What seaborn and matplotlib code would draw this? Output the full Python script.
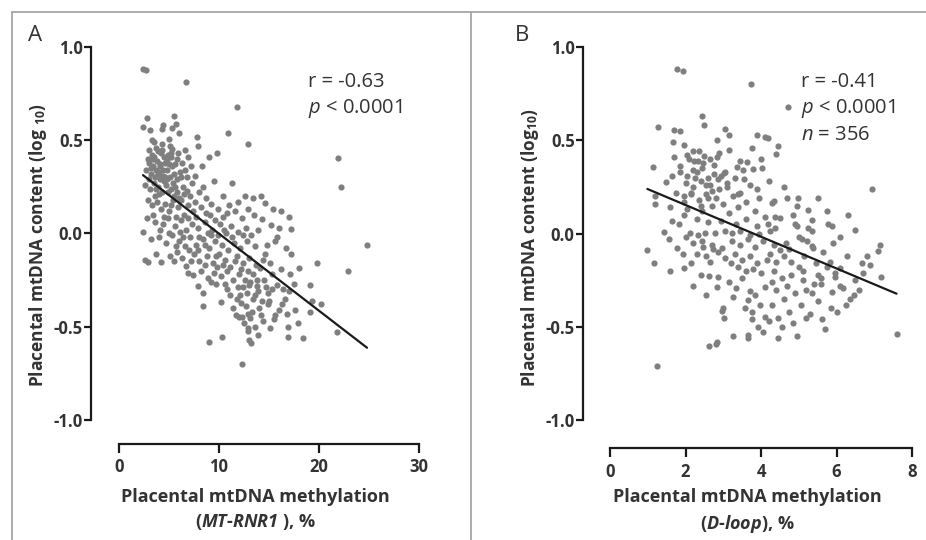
"""
Placental mtDNA content vs. mtDNA methylation (MT-RNR1 and D-loop)
"""

import matplotlib
matplotlib.use("Agg")
import matplotlib.pyplot as plt
from matplotlib.lines import Line2D
import seaborn as sns

sns.set_style("white")
plt.rcParams["font.family"] = ["Open Sans", "DejaVu Sans"]
plt.rcParams["mathtext.fontset"] = "custom"
plt.rcParams["mathtext.rm"] = "Open Sans"
plt.rcParams["mathtext.it"] = "Open Sans:italic"
plt.rcParams["mathtext.bf"] = "Open Sans:bold"
plt.rcParams["mathtext.bfit"] = "Open Sans:italic:bold"

# panel A: MT-RNR1 methylation (%) vs log10 mtDNA content
rnr1_x = [
    2.4, 2.7, 6.7, 11.8, 2.8, 5.5, 2.4, 3.1, 4.4, 4.3, 5.3, 5.7, 6.0, 10.9, 7.8, 12.9,
    3.5, 4.3, 5.0, 7.9, 3.7, 5.3, 9.8, 3.3, 4.2, 4.9, 5.2, 6.9, 9.0, 21.9, 22.2,
    3.0, 3.4, 3.8, 4.1, 4.6, 5.6, 6.3, 7.2, 8.3,
    3.2, 3.6, 4.0, 4.4, 4.8, 5.1, 5.5, 6.1, 6.8, 7.6, 9.5, 11.3,
    2.6, 3.1, 3.5, 3.9, 4.3, 4.7, 5.2, 5.8, 6.4, 7.1, 8.0, 8.7, 10.4, 12.6, 13.4, 14.2,
    2.9, 3.3, 3.8, 4.2, 4.6, 5.0, 5.4, 5.9, 6.5, 6.9, 7.4, 8.2, 9.1, 9.9, 10.8, 11.6,
    12.3, 13.5, 14.6, 15.4, 16.2, 17.0,
    2.8, 3.6, 4.4, 4.9, 5.6, 6.2, 6.7, 7.3, 7.9, 8.6, 9.3, 10.1, 10.7, 11.2, 11.9, 12.7,
    13.2, 14.3, 15.2, 16.0, 17.2,
    2.4, 3.2, 4.0, 4.7, 5.3, 6.0, 6.6, 7.1, 7.7, 8.4, 9.0, 9.6, 10.3, 10.9, 11.5, 12.1,
    12.8, 13.6, 14.8, 15.6, 15.8, 16.7,
    2.6, 2.9, 4.2, 3.7, 5.1, 5.8, 6.3, 6.7, 7.5, 8.0, 8.8, 9.4, 10.0, 10.6, 11.1, 11.8,
    12.4, 13.0, 13.7, 14.6, 14.1, 17.2, 18.0, 19.8,
    6.9, 7.4, 8.2, 8.9, 9.5, 10.2, 10.8, 11.4, 12.0, 12.6, 13.0, 13.4, 15.3, 15.8, 17.1,
    19.1, 22.9, 24.8,
    7.9, 8.4, 9.7, 10.8, 11.1, 11.9, 12.8, 13.9, 14.9, 16.4,
    8.4, 11.8, 12.2, 14.3, 14.9, 19.3, 20.2, 10.2,
    11.7, 12.3, 12.9, 13.1, 17.6, 16.8, 16.0, 19.1, 14.2,
    12.9, 12.9, 13.6, 15.1, 13.9, 17.9, 16.9, 16.9, 18.4, 21.8,
    9.0, 10.3, 13.0, 13.2, 12.3,
    3.0, 3.9, 4.5, 3.4, 4.8, 5.9, 6.6, 2.7, 3.7, 4.5, 5.3, 5.8, 6.6, 7.3, 3.0, 4.1,
    4.9, 5.5, 6.2, 6.8, 7.6, 8.4, 9.2, 3.6, 4.0, 4.5, 5.2, 5.7, 6.1, 6.9, 7.7, 8.7,
    9.6, 10.4, 11.0, 11.9, 12.9, 3.4, 4.1, 5.0, 5.7, 6.4, 7.0, 7.9, 8.6, 9.2, 9.9, 10.5,
    11.3, 12.4, 13.9, 8.0, 8.9, 9.7, 10.4, 11.6, 12.2, 12.9, 13.8, 14.4, 15.1, 16.2,
    9.8, 8.6, 7.2, 5.5, 12.4, 13.4, 15.3, 10.6, 9.2,
    3.2, 3.5, 3.9, 4.3, 4.6, 5.0, 5.4, 5.8, 6.2, 2.9, 3.7, 4.1, 4.8, 5.2, 5.6, 6.0,
    3.3, 4.4, 5.1, 6.5,
    12.1, 12.7, 13.3, 13.8, 14.4, 15.0, 15.6, 16.3, 17.0, 12.5, 13.1, 14.0, 14.7, 15.5,
    16.6, 11.4, 12.0, 13.6, 14.5, 17.5,
]
rnr1_y = [
    0.88, 0.875, 0.81, 0.68, 0.62, 0.63, 0.57, 0.555, 0.58, 0.56, 0.565, 0.585, 0.54, 0.54, 0.515, 0.48,
    0.49, 0.48, 0.505, 0.47, 0.46, 0.455, 0.43, 0.42, 0.43, 0.42, 0.41, 0.41, 0.41, 0.405, 0.25,
    0.38, 0.36, 0.39, 0.37, 0.38, 0.37, 0.38, 0.36, 0.36,
    0.32, 0.30, 0.33, 0.31, 0.34, 0.30, 0.32, 0.33, 0.30, 0.31, 0.28, 0.27,
    0.26, 0.24, 0.27, 0.25, 0.22, 0.26, 0.24, 0.22, 0.25, 0.20, 0.22, 0.19, 0.20, 0.20, 0.19, 0.20,
    0.18, 0.15, 0.17, 0.13, 0.16, 0.12, 0.18, 0.14, 0.10, 0.15, 0.12, 0.14, 0.10, 0.13, 0.11, 0.12,
    0.08, 0.10, 0.165, 0.13, 0.12, 0.09,
    0.08, 0.06, 0.05, 0.08, 0.04, 0.07, 0.02, 0.05, 0.03, 0.06, 0.02, 0.05, 0.00, 0.04, 0.01, 0.03,
    -0.01, 0.075, 0.045, 0.03, 0.025,
    0.01, -0.03, -0.02, -0.05, -0.01, -0.04, -0.07, -0.02, -0.06, -0.03, -0.08, -0.04, -0.06, -0.09, -0.05, -0.08,
    -0.04, -0.07, -0.06, -0.04, -0.02, -0.08,
    -0.14, -0.155, -0.155, -0.11, -0.12, -0.10, -0.13, -0.175, -0.11, -0.15, -0.12, -0.16, -0.11, -0.14, -0.18, -0.12,
    -0.16, -0.13, -0.17, -0.11, -0.185, -0.11, -0.185, -0.16,
    -0.21, -0.225, -0.20, -0.24, -0.21, -0.23, -0.20, -0.25, -0.22, -0.25, -0.275, -0.22, -0.22, -0.275, -0.22,
    -0.275, -0.20, -0.06,
    -0.28, -0.32, -0.27, -0.30, -0.33, -0.29, -0.32, -0.31, -0.32, -0.30,
    -0.39, -0.35, -0.375, -0.365, -0.38, -0.36, -0.38, -0.37,
    -0.44, -0.45, -0.43, -0.455, -0.41, -0.43, -0.41, -0.42, -0.44,
    -0.51, -0.525, -0.50, -0.51, -0.545, -0.48, -0.50, -0.555, -0.56, -0.53,
    -0.58, -0.555, -0.57, -0.59, -0.70,
    0.45, 0.44, 0.41, 0.40, 0.40, 0.43, 0.45, 0.34, 0.34, 0.28, 0.36, 0.29, 0.34, 0.27, 0.29, 0.29,
    0.22, 0.20, 0.18, 0.23, 0.17, 0.25, 0.16, 0.20, 0.21, 0.09, 0.15, 0.09, 0.01, 0.08, 0.09, 0.11,
    0.07, 0.09, 0.15, 0.17, 0.13, 0.10, 0.02, 0.00, -0.07, -0.02, -0.09, -0.09, -0.06, -0.01, -0.01, 0.02,
    -0.02, -0.01, 0.02, -0.02, 0.00, -0.12, -0.17, -0.15, -0.19, -0.20, -0.25, -0.14, -0.16, -0.19,
    -0.18, -0.17, -0.15, -0.15, -0.29, -0.35, -0.30, -0.27, -0.26,
    0.35, 0.41, 0.32, 0.45, 0.30, 0.37, 0.27, 0.40, 0.30, 0.40, 0.24, 0.36, 0.29, 0.43, 0.25, 0.19,
    0.50, 0.34, 0.47, 0.21,
    -0.33, -0.39, -0.42, -0.28, -0.47, -0.36, -0.44, -0.38, -0.31, -0.48, -0.26, -0.40, -0.29, -0.46,
    -0.35, -0.40, -0.45, -0.33, -0.25, -0.27,
]

# panel B: D-loop methylation (%) vs log10 mtDNA content
dloop_x = [
    1.77, 1.94, 3.73, 4.71, 2.43, 2.50, 1.26, 1.70, 1.86, 3.04, 3.16, 3.89, 4.18, 4.10, 4.44, 4.39,
    1.66, 1.97, 2.83, 3.15, 3.76, 2.21, 2.09, 2.23, 2.50, 2.47, 2.34, 2.83, 3.44, 3.62, 3.80, 4.00,
    4.03, 3.36, 3.53, 1.13, 3.89, 3.03, 1.48, 1.63, 6.95,
    1.85, 2.05, 2.30, 2.60, 2.75, 3.30, 2.00, 2.20, 2.40, 2.65, 2.90, 3.10, 3.45, 3.70, 4.20, 4.60,
    1.75, 1.95, 2.15, 2.35, 2.55, 2.80, 3.00, 3.25, 3.60, 3.95, 1.20,
    4.68, 4.99, 5.52, 4.28, 4.35, 4.95, 5.25, 5.74,
    1.19, 1.60, 2.05, 2.45, 2.70, 3.15, 3.40, 3.85, 4.10,
    4.37, 4.50, 4.86, 5.34, 5.78, 5.87, 4.95, 5.25, 5.34, 6.49, 4.19, 4.24, 4.37,
    1.63, 1.84, 1.96, 2.30, 2.60, 2.95, 3.35, 3.60, 3.90,
    1.43, 2.12, 2.34, 2.52, 2.78, 3.05, 3.22, 3.44, 3.70, 3.95,
    0.99, 1.17, 1.78, 1.93, 1.97, 2.14,
    2.21, 2.43, 2.47, 2.69, 2.74, 2.96, 3.22, 3.45, 3.65, 3.85, 4.05,
    5.00, 5.21, 5.08, 5.34, 5.39, 5.92, 7.15, 7.11, 6.27,
    4.35, 4.50, 4.25, 4.15, 4.40, 4.60, 4.75,
    2.30, 2.55, 2.85, 3.05, 3.30, 3.50, 3.70, 3.90, 3.40, 3.60, 3.80, 4.00, 3.20,
    2.40, 2.63, 2.86, 2.83, 2.53, 3.00, 2.96, 3.02, 2.63, 2.84, 2.81, 3.27, 3.66, 3.66, 1.25,
    3.75, 3.93, 4.10, 4.06, 3.58, 3.66, 3.97, 3.75, 3.71, 3.84, 4.10,
    5.83, 6.09, 6.67, 6.89, 6.71, 5.96, 7.18, 6.18, 5.87, 7.59, 5.61, 5.70,
    4.35, 4.55, 4.80, 5.00, 5.10, 4.70, 4.40, 4.90, 5.20, 4.60, 4.30, 5.05, 4.75, 4.45, 4.85, 4.55,
    4.95, 4.45, 4.20, 5.30,
    4.80, 5.15, 5.45, 5.50, 5.60,
    3.15, 3.35, 3.50, 3.25, 2.65, 2.20, 1.60, 2.00, 1.55,
    6.30, 6.10, 5.65, 6.50, 6.80,
    1.85, 2.05, 2.25, 2.45, 2.65, 2.85, 3.05, 2.15, 2.35, 2.55, 2.75, 2.95, 1.95, 2.40, 2.70, 3.10,
    2.20, 2.60, 1.70, 2.90,
    5.10, 5.35, 5.60, 5.85, 6.10, 6.35, 6.60, 5.20, 5.50, 5.75, 6.00, 6.45, 5.40, 5.95, 6.25,
    3.40, 3.55, 4.30, 4.65, 4.90,
]
dloop_y = [
    0.88, 0.87, 0.80, 0.68, 0.63, 0.58, 0.57, 0.557, 0.55, 0.56, 0.53, 0.53, 0.51, 0.516, 0.47, 0.426,
    0.49, 0.475, 0.50, 0.45, 0.46, 0.44, 0.40, 0.39, 0.417, 0.38, 0.39, 0.41, 0.39, 0.385, 0.345, 0.40,
    0.354, 0.357, 0.343, 0.357, 0.237, 0.327, 0.277, 0.31, 0.24,
    0.33, 0.31, 0.33, 0.30, 0.32, 0.30, 0.27, 0.25, 0.28, 0.26, 0.24, 0.27, 0.22, 0.26, 0.28, 0.25,
    0.22, 0.20, 0.22, 0.18, 0.21, 0.19, 0.16, 0.20, 0.17, 0.19, 0.20,
    0.19, 0.19, 0.19, 0.165, 0.174, 0.147, 0.124, 0.12,
    0.156, 0.14, 0.13, 0.12, 0.15, 0.11, 0.14, 0.12, 0.09,
    0.088, 0.085, 0.10, 0.075, 0.049, 0.04, 0.04, 0.03, 0.013, 0.018, 0.049, 0.013, 0.03,
    0.07, 0.054, 0.097, 0.08, 0.06, 0.07, 0.05, 0.08, 0.04,
    0.007, 0.004, -0.005, 0.004, 0.004, 0.013, 0.004, 0.013, -0.01, 0.00,
    -0.09, -0.158, -0.077, -0.108, -0.185, -0.158,
    -0.05, -0.04, -0.07, -0.06, -0.08, -0.077, -0.04, -0.06, -0.03, -0.07, -0.04,
    -0.02, -0.04, -0.03, -0.068, -0.077, -0.05, -0.06, -0.095, -0.122,
    -0.06, -0.09, -0.11, -0.14, -0.15, -0.12, -0.08,
    -0.11, -0.12, -0.10, -0.13, -0.11, -0.14, -0.12, -0.16, -0.18, -0.20, -0.19, -0.21, -0.16,
    -0.22, -0.226, -0.235, -0.287, -0.33, -0.40, -0.413, -0.45, -0.60, -0.58, -0.593, -0.55, -0.545, -0.56, -0.71,
    -0.455, -0.50, -0.446, -0.527, -0.40, -0.356, -0.383, -0.42, -0.31, -0.33, -0.287,
    -0.15, -0.185, -0.158, -0.167, -0.21, -0.23, -0.235, -0.293, -0.311, -0.54, -0.455, -0.51,
    -0.20, -0.24, -0.22, -0.18, -0.25, -0.28, -0.30, -0.32, -0.30, -0.35, -0.38, -0.38, -0.42, -0.45, -0.48, -0.50,
    -0.55, -0.56, -0.47, -0.43,
    -0.15, -0.12, -0.16, -0.22, -0.27,
    -0.26, -0.29, -0.24, -0.34, -0.15, -0.28, -0.20, -0.02, -0.03,
    0.10, -0.02, -0.10, -0.25, -0.12,
    0.36, 0.42, 0.30, 0.35, 0.40, 0.29, 0.33, 0.21, 0.44, 0.26, 0.37, 0.31, 0.17, 0.15, 0.23, 0.25,
    0.34, 0.19, 0.41, 0.43,
    -0.20, -0.32, -0.24, -0.40, -0.28, -0.35, -0.30, -0.45, -0.36, -0.18, -0.42, -0.33, -0.27, -0.21, -0.38,
    0.21, 0.29, -0.26, -0.05, 0.05,
]

panels = [
    dict(x=rnr1_x, y=rnr1_y, letter="A", xmax=30, xticks=[0, 10, 20, 30],
         xlabel="Placental mtDNA methylation\n($\\mathbfit{MT}$-$\\mathbfit{RNR1}$ ), %",
         ylabel="Placental mtDNA content (log $_{\\mathbf{10}}$)",
         stats=["r = -0.63", "$\\mathit{p}$ < 0.0001"]),
    dict(x=dloop_x, y=dloop_y, letter="B", xmax=8, xticks=[0, 2, 4, 6, 8],
         xlabel="Placental mtDNA methylation\n($\\mathbfit{D}$-$\\mathbfit{loop}$), %",
         ylabel="Placental mtDNA content (log$_{\\mathbf{10}}$)",
         stats=["r = -0.41", "$\\mathit{p}$ < 0.0001", "$\\mathit{n}$ = 356"]),
]

# axes rectangles in figure fractions, and the x offset of the y spine
rects = [[0.0983, 0.178, 0.3542, 0.735], [0.6296, 0.170, 0.3553, 0.743]]
spine_pad = [2.8, 0.715]
ybottom = [-1.129, -1.150]
letter_x = [0.030, 0.556]
xlabel_pad = [8, 5]


def main():
    fig = plt.figure(figsize=(9.26, 5.40), dpi=100)

    for i, p in enumerate(panels):
        ax = fig.add_axes(rects[i])
        sns.regplot(x=p["x"], y=p["y"], ax=ax, ci=None, color="#7f7f7f",
                    scatter_kws=dict(s=20, linewidths=0, alpha=1),
                    line_kws=dict(color="#1a1a1a", lw=1.6))

        ax.set_xlim(-spine_pad[i], p["xmax"])
        ax.set_ylim(ybottom[i], 1.0)
        ax.set_xticks(p["xticks"])
        ax.set_yticks([-1.0, -0.5, 0.0, 0.5, 1.0])
        ax.set_yticklabels(["-1.0", "-0.5", "0.0", "0.5", "1.0"])
        for side in ["top", "right"]:
            ax.spines[side].set_visible(False)
        ax.spines["left"].set_bounds(-1.0, 1.0)
        ax.spines["bottom"].set_bounds(0, p["xmax"])
        for side in ["left", "bottom"]:
            ax.spines[side].set_linewidth(1.6)
            ax.spines[side].set_color("#1a1a1a")
        ax.tick_params(direction="out", width=1.6, color="#1a1a1a",
                       labelsize=12, left=True, bottom=True)
        ax.tick_params(axis="y", length=5, pad=1)
        ax.tick_params(axis="x", length=6.5, pad=4)
        for t in ax.get_xticklabels() + ax.get_yticklabels():
            t.set_fontweight("bold")
            t.set_color("#333333")
        ax.set_facecolor("none")

        ax.set_xlabel(p["xlabel"], fontsize=13, fontweight="bold",
                      color="#333333", linespacing=1.45,
                      labelpad=xlabel_pad[i])
        ax.set_ylabel(p["ylabel"], fontsize=12.5, fontweight="bold",
                      color="#333333")
        ax.yaxis.set_label_coords(-0.128, 0.50)

        for k, s in enumerate(p["stats"]):
            ax.text(0.662, 0.912 - k * 0.066, s, transform=ax.transAxes,
                    fontsize=14.5, color="#333333", va="center")

        fig.text(letter_x[i], 0.935, p["letter"], fontsize=16,
                 color="#333333", va="center")

    # grey frame around the figure with a divider between the panels
    frame = dict(color="#a6a6a6", lw=1.3)
    fig.add_artist(Line2D([12 / 926, 1], [1 - 12 / 540] * 2, **frame))
    fig.add_artist(Line2D([12 / 926] * 2, [0, 1 - 12 / 540], **frame))
    fig.add_artist(Line2D([471 / 926] * 2, [0, 1 - 12 / 540], **frame))

    plt.savefig("out.png", dpi=100)


if __name__ == "__main__":
    main()
